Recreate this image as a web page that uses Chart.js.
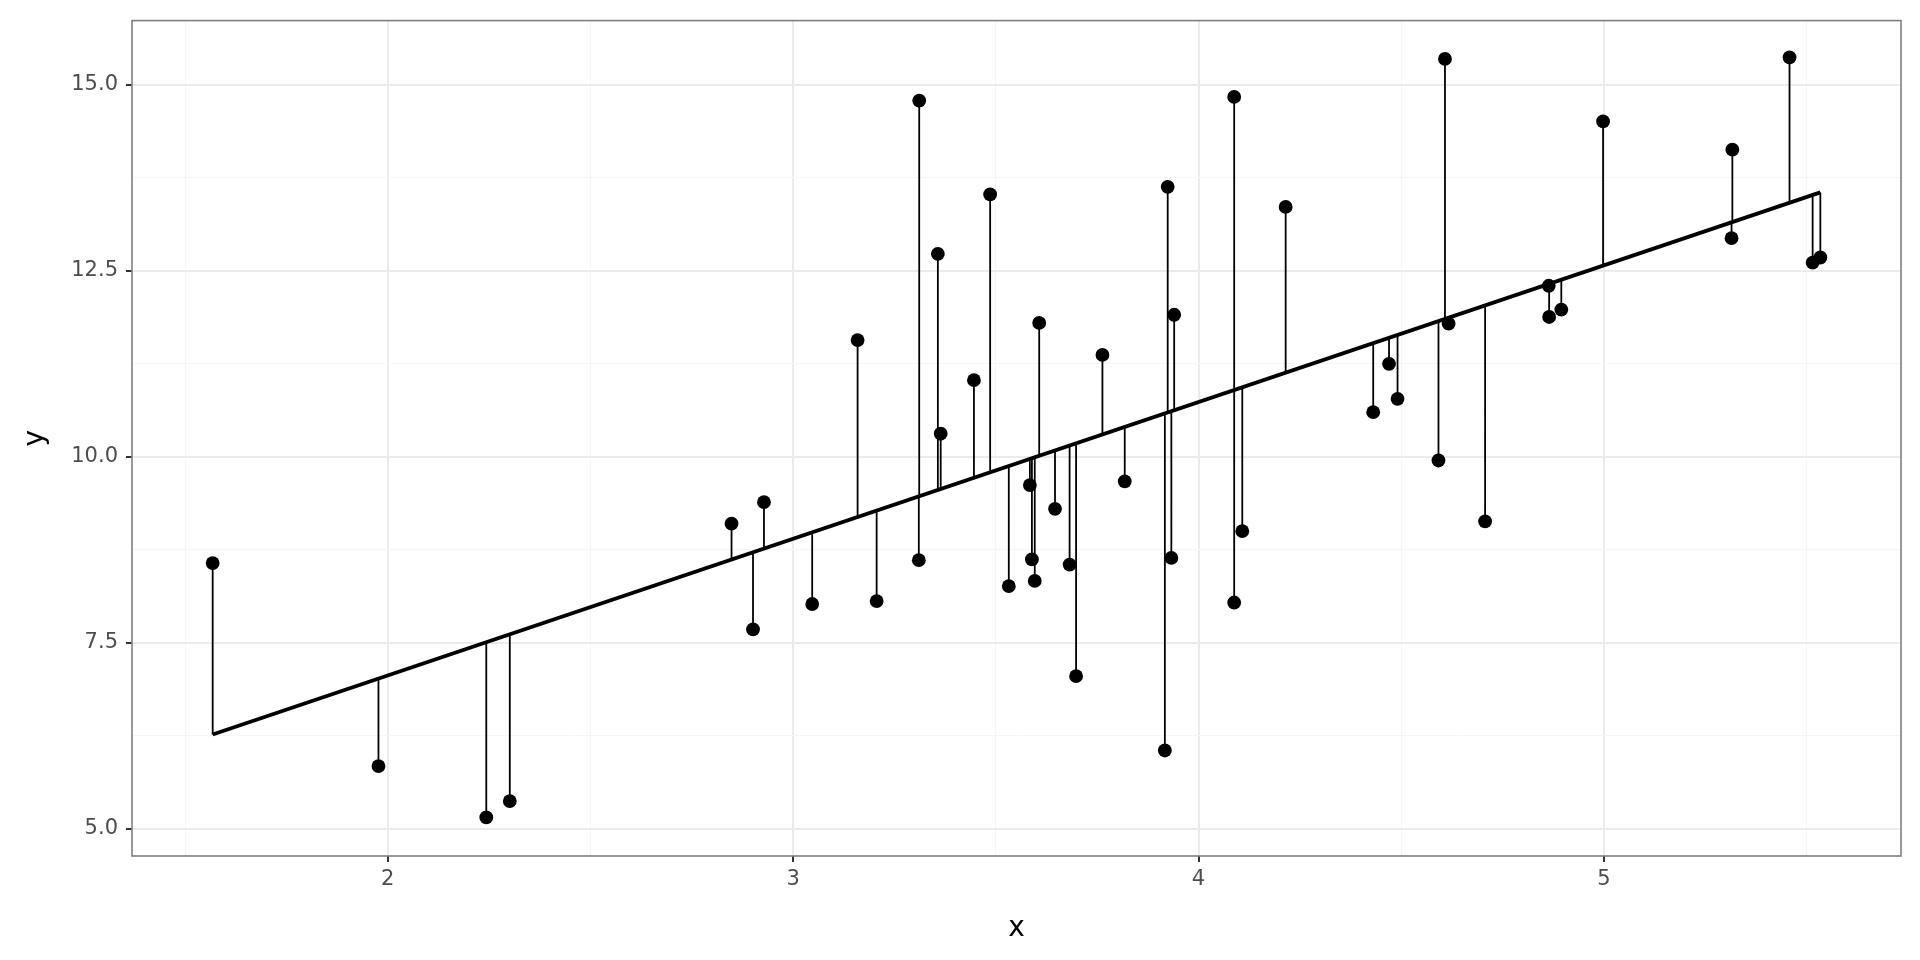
<!DOCTYPE html>
<html>
<head>
<meta charset="utf-8">
<script src="https://cdn.jsdelivr.net/npm/chart.js@4/dist/chart.umd.min.js"></script>
<style>
  html, body { margin: 0; padding: 0; background: #fff; }
  canvas { display: block; }
</style>
</head>
<body>
<canvas id="fit-chart" width="1920" height="960"></canvas>
<script>
const xs = [
  1.568, 1.977, 2.243, 2.301, 2.848, 2.901, 2.928, 3.047, 3.159, 3.206,
  3.310, 3.311, 3.357, 3.364, 3.446, 3.486, 3.532, 3.584, 3.589, 3.596,
  3.607, 3.646, 3.682, 3.698, 3.763, 3.818, 3.917, 3.924, 3.933, 3.940,
  4.088, 4.088, 4.108, 4.215, 4.431, 4.470, 4.491, 4.592, 4.608, 4.617,
  4.707, 4.864, 4.865, 4.895, 4.998, 5.317, 5.315, 5.458, 5.515, 5.534,
];
const ys = [
  8.57, 5.84, 5.15, 5.37, 9.10, 7.68, 9.39, 8.02, 11.57, 8.06,
  8.61, 14.79, 12.73, 10.31, 11.03, 13.53, 8.26, 9.62, 8.62, 8.33,
  11.80, 9.30, 8.55, 7.05, 11.37, 9.67, 6.05, 13.63, 8.64, 11.91,
  14.84, 8.04, 9.00, 13.36, 10.60, 11.25, 10.78, 9.95, 15.35, 11.79,
  9.13, 12.30, 11.88, 11.98, 14.51, 14.13, 12.94, 15.37, 12.61, 12.68,
];

// fitted line
const intercept = 3.384;
const slope = 1.838;

// axis ticks (majors get labels, the rest are minor grid lines)
const xTicks = [1.5, 2, 2.5, 3, 3.5, 4, 4.5, 5, 5.5];
const xMajor = [2, 3, 4, 5];
const yTicks = [5, 6.25, 7.5, 8.75, 10, 11.25, 12.5, 13.75, 15];
const yMajor = [5, 7.5, 10, 12.5, 15];

const fitted = (x) => intercept + slope * x;

const points = xs.map((x, i) => ({ x: x, y: ys[i] }));

const xMin = Math.min(...xs);
const xMax = Math.max(...xs);
const fitLine = [
  { x: xMin, y: fitted(xMin) },
  { x: xMax, y: fitted(xMax) },
];

// one line dataset, broken with nulls between residuals
const residuals = [];
xs.forEach((x, i) => {
  residuals.push({ x: x, y: fitted(x) });
  residuals.push({ x: x, y: ys[i] });
  residuals.push({ x: x, y: null });
});

Chart.defaults.font.family = "'DejaVu Sans', sans-serif";

const panelBorder = {
  id: "panelBorder",
  afterDatasetsDraw(chart) {
    const { ctx, chartArea } = chart;
    ctx.save();
    ctx.strokeStyle = "#7f7f7f";
    ctx.lineWidth = 1.6;
    ctx.strokeRect(chartArea.left, chartArea.top,
      chartArea.right - chartArea.left, chartArea.bottom - chartArea.top);
    ctx.restore();
  },
};

const gridColor = (major) => (ctx) =>
  ctx.tick && major.includes(ctx.tick.value) ? "#ebebeb" : "#f6f6f6";
const gridWidth = (major) => (ctx) =>
  ctx.tick && major.includes(ctx.tick.value) ? 2 : 1;
const tickColor = (major) => (ctx) =>
  ctx.tick && major.includes(ctx.tick.value) ? "#333333" : "rgba(0,0,0,0)";

new Chart(document.getElementById("fit-chart"), {
  type: "scatter",
  data: {
    datasets: [
      {
        label: "y",
        data: points,
        backgroundColor: "#000",
        borderWidth: 0,
        pointRadius: 6.9,
      },
      {
        type: "line",
        label: "fit",
        data: fitLine,
        borderColor: "#000",
        borderWidth: 3.8,
        pointRadius: 0,
        fill: false,
      },
      {
        type: "line",
        label: "residuals",
        data: residuals,
        borderColor: "#000",
        borderWidth: 1.8,
        pointRadius: 0,
        spanGaps: false,
        fill: false,
      },
    ],
  },
  options: {
    responsive: false,
    animation: false,
    devicePixelRatio: 1,
    layout: { padding: { top: 20, right: 19, left: 0, bottom: 0 } },
    plugins: {
      legend: { display: false },
      tooltip: { enabled: false },
    },
    scales: {
      x: {
        type: "linear",
        min: 1.369,
        max: 5.733,
        afterBuildTicks: (axis) => {
          axis.ticks = xTicks.map((v) => ({ value: v }));
        },
        afterFit: (axis) => {
          axis.height = 104;
        },
        border: { display: false },
        grid: {
          color: gridColor(xMajor),
          lineWidth: gridWidth(xMajor),
          tickColor: tickColor(xMajor),
          tickLength: 6,
          tickWidth: 2,
        },
        ticks: {
          autoSkip: false,
          maxRotation: 0,
          padding: 5,
          color: "#4d4d4d",
          font: { size: 21 },
          callback: (v) => (xMajor.includes(v) ? String(v) : ""),
        },
        title: {
          display: true,
          text: "x",
          color: "#000",
          font: { size: 28 },
          padding: { top: 0, bottom: 14 },
        },
      },
      y: {
        type: "linear",
        min: 4.631,
        max: 15.866,
        afterBuildTicks: (axis) => {
          axis.ticks = yTicks.map((v) => ({ value: v }));
        },
        afterFit: (axis) => {
          axis.width = 132;
        },
        border: { display: false },
        grid: {
          color: gridColor(yMajor),
          lineWidth: gridWidth(yMajor),
          tickColor: tickColor(yMajor),
          tickLength: 6,
          tickWidth: 2,
        },
        ticks: {
          autoSkip: false,
          padding: 8,
          color: "#4d4d4d",
          font: { size: 21 },
          callback: (v) => (yMajor.includes(v) ? v.toFixed(1) : ""),
        },
        title: {
          display: true,
          text: "y",
          color: "#000",
          font: { size: 28 },
          padding: { top: 19, bottom: 0 },
        },
      },
    },
  },
  plugins: [panelBorder],
});
</script>
</body>
</html>
